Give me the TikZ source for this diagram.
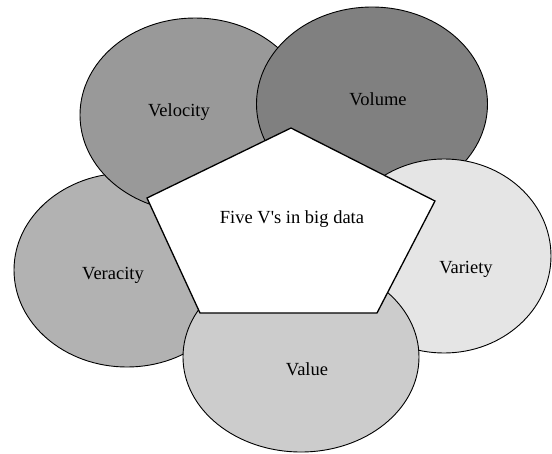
\documentclass[tikz,border=0pt]{standalone}
\usepackage{fontspec}
\setmainfont{Liberation Serif}
\usetikzlibrary{shapes.geometric}

\begin{document}
\begin{tikzpicture}[x=1pt,y=-1pt,
    vblob/.style={ellipse,draw=black,line width=0.9pt,inner sep=0pt,minimum height=194pt},
    vtext/.style={font=\fontsize{18.5}{20}\selectfont}]
    \useasboundingbox (0,0) rectangle (552,453);
    % the five V's, back to front
    \node[vblob,fill=black!30,minimum width=226pt] (veracity) at (127,270) {};
    \node[vblob,fill=black!40,minimum width=230pt] (velocity) at (195,115) {};
    \node[vblob,fill=black!50,minimum width=231pt] (volume) at (372,104) {};
    \node[vblob,fill=black!10,minimum width=214pt] (variety) at (444,256) {};
    \node[vblob,fill=black!20,minimum width=236pt,minimum height=190pt] (value) at (301,357) {};
    % centre pentagon
    \coordinate (ptop) at (291,128);
    \coordinate (pright) at (435,201);
    \coordinate (pbr) at (377,313);
    \coordinate (pbl) at (200,313);
    \coordinate (pleft) at (147,198);
    \draw[fill=white,line width=1.3pt,line join=miter]
      (ptop) -- (pright) -- (pbr) -- (pbl) -- (pleft) -- cycle;
    \node[vtext] (core) at (292,219) {Five V\textquotesingle s in big data};
    % labels
    \node[vtext] (lvelocity) at (179,112) {Velocity};
    \node[vtext] (lvolume) at (378,99) {Volume};
    \node[vtext] (lvariety) at (466,269) {Variety};
    \node[vtext] (lveracity) at (113,275) {Veracity};
    \node[vtext] (lvalue) at (307,369) {Value};
\end{tikzpicture}
\end{document}
